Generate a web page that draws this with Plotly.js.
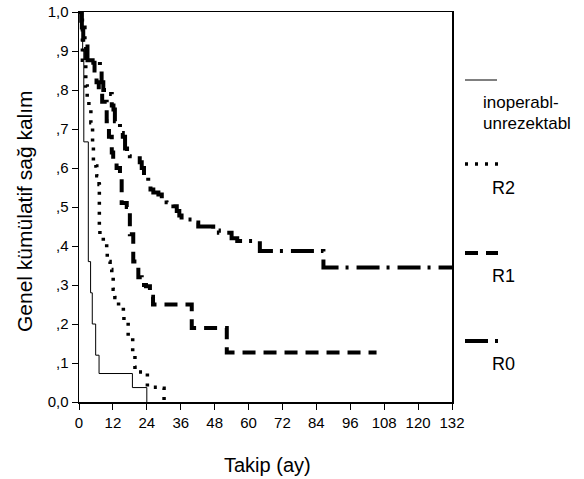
<!DOCTYPE html>
<html>
<head>
<meta charset="utf-8">
<script src="https://cdn.plot.ly/plotly-3.0.1.min.js"></script>
<style>html,body{margin:0;padding:0;background:#fff;}</style>
</head>
<body>
<div id="chart" style="width:584px;height:479px;"></div>
<script>
// Kaplan-Meier step data (time in months, cumulative survival)
const inopT = [0, 1.3, 1.7, 3.3, 4.1, 4.7, 5.9, 7.1, 18.9, 24.0];
const inopS = [1.0, 0.90, 0.667, 0.36, 0.28, 0.20, 0.12, 0.073, 0.037, 0.0];

const r2T = [0, 1.2, 2.4, 2.9, 3.5, 4.2, 4.8, 5.1, 6.0, 6.3, 7.1, 7.2, 7.4, 8.6, 9.8, 10.0, 11.0, 11.6, 12.1, 12.7, 14.0, 15.7, 15.9, 17.4, 19.0, 19.8, 21.0, 24.2, 28.4, 30.1];
const r2S = [1.0, 0.876, 0.81, 0.78, 0.75, 0.716, 0.666, 0.614, 0.605, 0.58, 0.558, 0.45, 0.425, 0.413, 0.39, 0.36, 0.34, 0.32, 0.289, 0.268, 0.243, 0.231, 0.208, 0.166, 0.128, 0.089, 0.077, 0.038, 0.035, 0.0];

const r1T = [0, 0.8, 1.5, 2.5, 5.5, 6.2, 7.0, 8.2, 9.8, 10.6, 11.6, 12.1, 13.3, 14.5, 15.1, 16.9, 18.0, 19.2, 21.0, 22.2, 23.7, 25.1, 26.2, 39.9, 52.3, 105.3];
const r1S = [1.0, 0.96, 0.92, 0.87, 0.85, 0.82, 0.80, 0.77, 0.72, 0.68, 0.64, 0.62, 0.60, 0.584, 0.51, 0.50, 0.43, 0.36, 0.32, 0.30, 0.297, 0.27, 0.25, 0.19, 0.127, 0.127];

const r0T = [0, 1.0, 2.0, 3.0, 7.4, 8.0, 8.6, 10.5, 11.6, 12.2, 12.7, 14.5, 15.5, 16.3, 17.0, 18.0, 20.4, 21.5, 22.2, 23.0, 23.4, 24.5, 25.3, 26.3, 28.1, 29.3, 31.0, 33.4, 34.6, 35.5, 36.3, 40.4, 42.2, 47.5, 49.5, 54.0, 56.0, 64.0, 86.5, 132];
const r0S = [1.0, 0.96, 0.92, 0.876, 0.85, 0.82, 0.80, 0.79, 0.76, 0.75, 0.72, 0.69, 0.68, 0.65, 0.64, 0.63, 0.625, 0.615, 0.60, 0.58, 0.575, 0.555, 0.545, 0.537, 0.532, 0.52, 0.512, 0.502, 0.49, 0.478, 0.468, 0.46, 0.45, 0.44, 0.434, 0.42, 0.413, 0.387, 0.345, 0.345];

const xTicks = [0, 12, 24, 36, 48, 60, 72, 84, 96, 108, 120, 132];
const yTicks = [0, 0.1, 0.2, 0.3, 0.4, 0.5, 0.6, 0.7, 0.8, 0.9, 1.0];
const yTickText = ['0,0', ',1', ',2', ',3', ',4', ',5', ',6', ',7', ',8', ',9', '1,0'];

const groupNames = ['inoperabl-unrezektabl', 'R2', 'R1', 'R0'];
const xTitle = 'Takip (ay)';
const yTitle = 'Genel kümülatif sağ kalım';

// plot area in pixels: x 79..452, y 12..402
const L = 79, R = 452, T = 12, B = 402;
const px = v => (v - L) / (R - L);
const py = v => (B - v) / (B - T);

const traces = [
  {x: inopT, y: inopS, name: groupNames[0], mode: 'lines', line: {shape: 'hv', color: 'black', width: 1}},
  {x: r2T, y: r2S, name: groupNames[1], mode: 'lines', line: {shape: 'hv', color: 'black', width: 3.5, dash: '3px,7px'}},
  {x: r1T, y: r1S, name: groupNames[2], mode: 'lines', line: {shape: 'hv', color: 'black', width: 4, dash: '13px,8px'}},
  {x: r0T, y: r0S, name: groupNames[3], mode: 'lines', line: {shape: 'hv', color: 'black', width: 4, dash: '23px,7px,3px,8px'}}
];

const font = 'Liberation Sans, Arial, sans-serif';
const legSamples = [
  {y: 80, w: 1, dash: 'solid', x1: 497},
  {y: 164, w: 3.5, dash: '3px,7px', x1: 498},
  {y: 253, w: 4, dash: '13px,8px', x1: 498},
  {y: 341, w: 4, dash: '23px,7px,3px,8px', x1: 498}
];
const shapes = legSamples.map(s => ({
  type: 'line', xref: 'paper', yref: 'paper',
  x0: px(465), x1: px(s.x1), y0: py(s.y), y1: py(s.y),
  line: {color: 'black', width: s.w, dash: s.dash}
}));

const legText = [
  {t: 'inoperabl-', x: 481, y: 103, s: 17},
  {t: 'unrezektabl', x: 481, y: 123, s: 17},
  {t: groupNames[1], x: 490, y: 188, s: 18},
  {t: groupNames[2], x: 490, y: 276, s: 18},
  {t: groupNames[3], x: 490, y: 364, s: 18}
];
const annotations = legText.map(a => ({
  text: a.t, xref: 'paper', yref: 'paper', x: px(a.x), y: py(a.y),
  xanchor: 'left', yanchor: 'middle', showarrow: false,
  font: {family: font, size: a.s, color: 'black'}
}));
annotations.push({
  text: xTitle, xref: 'paper', yref: 'paper', x: px(267.5), y: py(465),
  xanchor: 'center', yanchor: 'middle', showarrow: false,
  font: {family: font, size: 20, color: 'black'}
});
annotations.push({
  text: yTitle, xref: 'paper', yref: 'paper', x: px(24), y: py(211),
  xanchor: 'center', yanchor: 'middle', showarrow: false, textangle: -90,
  font: {family: font, size: 21, color: 'black'}
});

const layout = {
  width: 584, height: 479,
  margin: {l: L, r: 584 - R, t: T, b: 479 - B, pad: 0},
  paper_bgcolor: 'white', plot_bgcolor: 'white',
  showlegend: false,
  font: {family: font, color: 'black'},
  xaxis: {
    range: [0, 132], tickvals: xTicks, ticktext: xTicks.map(String),
    ticks: 'outside', ticklen: 6, tickwidth: 1, tickcolor: 'black',
    showline: true, linewidth: 1.5, linecolor: 'black', mirror: true,
    showgrid: false, zeroline: false, tickfont: {family: font, size: 15}
  },
  yaxis: {
    range: [0, 1], tickvals: yTicks, ticktext: yTickText,
    ticks: 'outside', ticklen: 6, tickwidth: 1, tickcolor: 'black',
    showline: true, linewidth: 1.5, linecolor: 'black', mirror: true,
    showgrid: false, zeroline: false, tickfont: {family: font, size: 15}
  },
  shapes: shapes,
  annotations: annotations
};

Plotly.newPlot('chart', traces, layout, {displayModeBar: false, staticPlot: true});
</script>
</body>
</html>
